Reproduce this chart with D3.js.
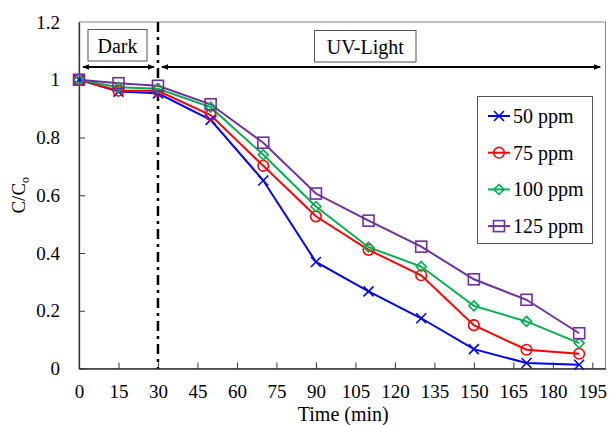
<!DOCTYPE html>
<html>
<head>
<meta charset="utf-8">
<script src="https://cdn.jsdelivr.net/npm/d3@7"></script>
<style>
  body { margin: 0; background: #fff; }
  svg text { font-family: "Liberation Serif", "DejaVu Serif", serif; fill: #000; }
</style>
</head>
<body>
<script>
// time points (min) and C/Co for each initial concentration
var times = [0, 15, 30, 50, 70, 90, 110, 130, 150, 170, 190];
var c50  = [1, 0.959, 0.953, 0.861, 0.651, 0.369, 0.267, 0.174, 0.067, 0.019, 0.013];
var c75  = [1, 0.962, 0.962, 0.878, 0.702, 0.527, 0.411, 0.323, 0.150, 0.065, 0.051];
var c100 = [1, 0.974, 0.969, 0.905, 0.740, 0.561, 0.420, 0.353, 0.217, 0.163, 0.088];
var c125 = [1, 0.988, 0.979, 0.915, 0.782, 0.606, 0.512, 0.422, 0.309, 0.238, 0.122];
var seriesNames = ["50 ppm", "75 ppm", "100 ppm", "125 ppm"];
var xTicks = d3.range(0, 196, 15);
var yTicks = [0, 0.2, 0.4, 0.6, 0.8, 1, 1.2];

var FONT = "'Liberation Serif', 'DejaVu Serif', serif";
var w = 609, h = 425;
var svg = d3.select("body").append("svg").attr("width", w).attr("height", h)
  .attr("font-family", FONT);

var x = d3.scaleLinear().domain([0, 200]).range([79, 605.5]);
var y = d3.scaleLinear().domain([0, 1.2]).range([368.5, 22]);

// plot frame (top/right gray)
svg.append("rect")
  .attr("x", x(0)).attr("y", y(1.2))
  .attr("width", x(200) - x(0)).attr("height", y(0) - y(1.2))
  .attr("fill", "none").attr("stroke", "#868686").attr("stroke-width", 1);

// axes, ticks pointing inward
var xAxis = svg.append("g").attr("transform", "translate(0," + y(0) + ")")
  .call(d3.axisBottom(x).tickValues(xTicks).tickSize(-6).tickSizeOuter(0).tickPadding(16));
var yAxis = svg.append("g").attr("transform", "translate(" + x(0) + ",0)")
  .call(d3.axisLeft(y).tickValues(yTicks).tickSize(-6).tickSizeOuter(0).tickPadding(19)
    .tickFormat(function (d) { return d3.format("")(d); }));

[xAxis, yAxis].forEach(function (g) {
  g.attr("font-family", FONT).attr("font-size", 19);
  g.select(".domain").attr("stroke", "#333").attr("stroke-width", 1.3);
  g.selectAll(".tick line").attr("stroke", "#333");
  g.selectAll(".tick text").attr("font-family", FONT).attr("fill", "#000");
});
yAxis.select(".tick:last-of-type line").remove();

// axis titles
svg.append("text")
  .attr("x", (x(0) + x(200)) / 2 + 1).attr("y", 421)
  .attr("text-anchor", "middle").attr("font-size", "20px")
  .text("Time (min)");

var yl = svg.append("text")
  .attr("transform", "translate(25," + (y(0.6)) + ") rotate(-90)")
  .attr("text-anchor", "middle").attr("font-size", "19px");
yl.append("tspan").text("C/C");
yl.append("tspan").attr("font-size", "12px").attr("dy", 4).text("o");

// dash-dot divider at 30 min
svg.append("line")
  .attr("x1", x(30)).attr("x2", x(30))
  .attr("y1", y(1.2)).attr("y2", y(0))
  .attr("stroke", "#000").attr("stroke-width", 2.5)
  .attr("stroke-dasharray", "10,5,3,5");

// arrow markers
var defs = svg.append("defs");
defs.append("marker").attr("id", "ah")
  .attr("viewBox", "0 0 10 10").attr("refX", 9).attr("refY", 5)
  .attr("markerWidth", 4).attr("markerHeight", 4)
  .attr("orient", "auto-start-reverse")
  .append("path").attr("d", "M0,1 L10,5 L0,9 Z").attr("fill", "#000");

var arrowY = 67;
svg.append("line")
  .attr("x1", x(1.5)).attr("x2", x(28.5)).attr("y1", arrowY).attr("y2", arrowY)
  .attr("stroke", "#000").attr("stroke-width", 1.8)
  .attr("marker-start", "url(#ah)").attr("marker-end", "url(#ah)");
svg.append("line")
  .attr("x1", x(31.5)).attr("x2", x(198)).attr("y1", arrowY).attr("y2", arrowY)
  .attr("stroke", "#000").attr("stroke-width", 1.8)
  .attr("marker-start", "url(#ah)").attr("marker-end", "url(#ah)");

// label boxes
function labelBox(x0, y0, bw, bh, txt) {
  svg.append("rect").attr("x", x0).attr("y", y0).attr("width", bw).attr("height", bh)
    .attr("fill", "#fff").attr("stroke", "#555").attr("stroke-width", 1);
  svg.append("text").attr("x", x0 + bw / 2).attr("y", y0 + 23)
    .attr("text-anchor", "middle").attr("font-size", "20px").text(txt);
}
labelBox(88, 29.5, 59, 31.5, "Dark");
labelBox(314.5, 30.5, 101.5, 31.5, "UV-Light");

// series
var colors = ["#0000ff", "#ff0000", "#00b050", "#7030a0"];
var allSeries = [c50, c75, c100, c125];
var shapes = ["x", "circle", "diamond", "square"];

function drawMarker(g, shape, color) {
  if (shape === "x") {
    g.append("path").attr("d", "M-5,-5L5,5M-5,5L5,-5")
      .attr("stroke", color).attr("stroke-width", 1.6).attr("fill", "none");
  } else if (shape === "circle") {
    g.append("circle").attr("r", 5.3)
      .attr("stroke", color).attr("stroke-width", 1.6).attr("fill", "none");
  } else if (shape === "diamond") {
    g.append("path").attr("d", "M0,-5L5,0L0,5L-5,0Z")
      .attr("stroke", color).attr("stroke-width", 1.6).attr("fill", "none");
  } else {
    g.append("rect").attr("x", -5.5).attr("y", -5.5).attr("width", 11).attr("height", 11)
      .attr("stroke", color).attr("stroke-width", 1.6).attr("fill", "none");
  }
}

var line = d3.line().x(function (d) { return x(d[0]); }).y(function (d) { return y(d[1]); });

allSeries.forEach(function (vals, si) {
  var pts = times.map(function (t, i) { return [t, vals[i]]; });
  svg.append("path").datum(pts).attr("d", line)
    .attr("fill", "none").attr("stroke", colors[si]).attr("stroke-width", 2);
});
allSeries.forEach(function (vals, si) {
  times.forEach(function (t, i) {
    var g = svg.append("g").attr("transform", "translate(" + x(t) + "," + y(vals[i]) + ")");
    drawMarker(g, shapes[si], colors[si]);
  });
});

// legend
svg.append("rect").attr("x", 477.5).attr("y", 96.5).attr("width", 115).attr("height", 147)
  .attr("fill", "#fff").attr("stroke", "#555").attr("stroke-width", 1);
seriesNames.forEach(function (name, si) {
  var ly = 116 + si * 36.7;
  svg.append("line").attr("x1", 488).attr("x2", 510).attr("y1", ly).attr("y2", ly)
    .attr("stroke", colors[si]).attr("stroke-width", 2);
  var g = svg.append("g").attr("transform", "translate(499," + ly + ")");
  drawMarker(g, shapes[si], colors[si]);
  svg.append("text").attr("x", 513).attr("y", ly + 7).attr("font-size", "20px").text(name);
});
</script>
</body>
</html>
